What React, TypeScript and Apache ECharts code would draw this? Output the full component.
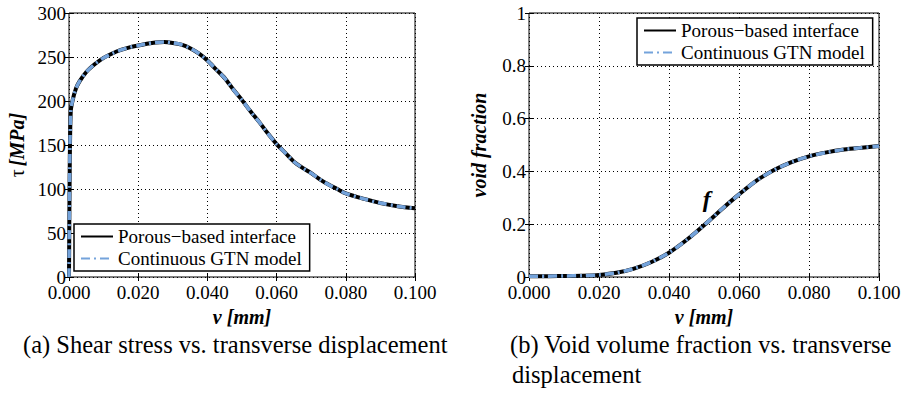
import React, { useEffect, useRef } from "react";
import * as echarts from "echarts";

const vTau = [0, 0.0002, 0.0005, 0.001, 0.002, 0.003, 0.005, 0.0075, 0.01, 0.0125, 0.015, 0.0175, 0.02, 0.0225, 0.025, 0.0275, 0.03, 0.0325, 0.035, 0.0375, 0.04, 0.0425, 0.045, 0.0475, 0.05, 0.0525, 0.055, 0.0575, 0.06, 0.0625, 0.065, 0.0675, 0.07, 0.0725, 0.075, 0.0775, 0.08, 0.085, 0.09, 0.095, 0.1];
const tauPorous = [0, 120, 188, 200, 214, 222, 233, 242, 249, 254, 258, 261, 263, 265, 266.5, 267, 266, 264, 260, 254, 246, 236, 226, 213, 201, 188, 176, 163, 151, 141, 131, 124, 118, 111, 105, 100, 95, 89, 84, 80.5, 78];
const tauGTN = [0, 120, 188, 200, 214, 222, 233, 242, 249, 254, 258, 261, 263, 265, 266.5, 267, 266, 264, 260, 254, 246, 236, 226, 213, 201, 188, 176, 163, 151, 141, 131, 124, 118, 111, 105, 100, 95, 89, 84, 80.5, 78];

const vF = [0, 0.005, 0.01, 0.015, 0.02, 0.025, 0.03, 0.035, 0.04, 0.045, 0.05, 0.055, 0.06, 0.065, 0.07, 0.075, 0.08, 0.085, 0.09, 0.095, 0.1];
const fPorous = [0.003, 0.003, 0.004, 0.005, 0.008, 0.016, 0.032, 0.057, 0.092, 0.14, 0.196, 0.256, 0.313, 0.365, 0.405, 0.435, 0.457, 0.472, 0.483, 0.49, 0.496];
const fGTN = [0.003, 0.003, 0.004, 0.005, 0.008, 0.016, 0.032, 0.057, 0.092, 0.14, 0.196, 0.256, 0.313, 0.365, 0.405, 0.435, 0.457, 0.472, 0.483, 0.49, 0.496];

const seriesNames = ["Porous\u2212based interface", "Continuous GTN model"];
const captionA = "(a) Shear stress vs. transverse displacement";
const captionB1 = "(b) Void volume fraction vs. transverse";
const captionB2 = "displacement";
const fLabel = { text: "f", v: 0.0508, y: 0.295 };

const FONT = "'Liberation Serif', 'Times New Roman', Times, serif";
const BLUE = "#74a3db";

const zip = (xs: number[], ys: number[]) => xs.map((x, i) => [x, ys[i]]);

function xAxes(gridIndex: number) {
  return [
    {
      type: "value", gridIndex, min: 0, max: 0.1, interval: 0.02,
      name: "{i|v [mm]}", nameLocation: "middle", nameGap: 27,
      nameTextStyle: { rich: { i: { fontFamily: FONT, fontSize: 20, fontWeight: "bold", fontStyle: "italic", color: "#000" } } },
      axisLine: { show: false },
      axisTick: { inside: true, length: 4, lineStyle: { color: "#000" } },
      axisLabel: { fontFamily: FONT, fontSize: 19, color: "#000", margin: 6, formatter: (v: number) => v.toFixed(3) },
      splitLine: { show: true, lineStyle: { color: "#000", type: [1, 3], width: 1 } },
    },
    {
      type: "value", gridIndex, min: 0, max: 0.1, interval: 0.02, position: "top",
      axisLine: { show: false }, axisLabel: { show: false }, splitLine: { show: false },
      axisTick: { inside: true, length: 4, lineStyle: { color: "#000" } },
    },
  ];
}

function yAxes(gridIndex: number, max: number, interval: number, name: string, rich: any, gap: number) {
  return [
    {
      type: "value", gridIndex, min: 0, max, interval,
      name, nameLocation: "middle", nameGap: gap, nameTextStyle: { rich },
      axisLine: { show: false },
      axisTick: { inside: true, length: 4, lineStyle: { color: "#000" } },
      axisLabel: { fontFamily: FONT, fontSize: 19, color: "#000", margin: 3 },
      splitLine: { show: true, lineStyle: { color: "#000", type: [1, 3], width: 1 } },
    },
    {
      type: "value", gridIndex, min: 0, max, interval, position: "right",
      axisLine: { show: false }, axisLabel: { show: false }, splitLine: { show: false },
      axisTick: { inside: true, length: 4, lineStyle: { color: "#000" } },
    },
  ];
}

function lineSeries(name: string, data: number[][], xi: number, yi: number, blue: boolean, extra: any = {}) {
  return {
    type: "line", name, data, xAxisIndex: xi, yAxisIndex: yi, symbol: "none", smooth: 0.3,
    lineStyle: blue
      ? { color: BLUE, width: 3.5, type: [9, 4, 2, 4] }
      : { color: "#000", width: 4, type: "solid" },
    itemStyle: { color: blue ? BLUE : "#000" },
    z: blue ? 3 : 2,
    ...extra,
  };
}

function legend(left: number, top: number) {
  return {
    left, top, orient: "vertical", data: seriesNames,
    itemWidth: 32, itemHeight: 6, itemGap: 3,
    padding: [3, 8, 3, 6],
    borderColor: "#000", borderWidth: 1.5, backgroundColor: "#fff",
    itemStyle: { opacity: 0 },
    textStyle: { fontFamily: FONT, fontSize: 19, color: "#000" },
    selectedMode: false,
  };
}

export default function App() {
  const ref = useRef<HTMLDivElement>(null);
  useEffect(() => {
    document.body.style.margin = "0";
    const chart = echarts.init(ref.current!, undefined, { renderer: "svg" });
    const boldIt = { fontFamily: FONT, fontSize: 20, fontWeight: "bold", fontStyle: "italic", color: "#000" };
    const cap = { fontFamily: FONT, fontSize: 24.5, fill: "#000" };
    chart.setOption({
      animation: false,
      backgroundColor: "#fff",
      textStyle: { fontFamily: FONT },
      grid: [
        { left: 69, top: 13, width: 346, height: 264, show: true, borderColor: "#000", borderWidth: 1, backgroundColor: "transparent" },
        { left: 529, top: 13, width: 350, height: 264, show: true, borderColor: "#000", borderWidth: 1, backgroundColor: "transparent" },
      ],
      xAxis: [...xAxes(0), ...xAxes(1)],
      yAxis: [
        ...yAxes(0, 300, 50, "{t|\u03c4} {i|[MPa]}", { t: { fontFamily: FONT, fontSize: 20, color: "#000" }, i: boldIt }, 42),
        ...yAxes(1, 1, 0.2, "{i|void fraction}", { i: boldIt }, 40),
      ],
      legend: [legend(74, 224), legend(637, 18)],
      series: [
        lineSeries(seriesNames[0], zip(vTau, tauPorous), 0, 0, false),
        lineSeries(seriesNames[1], zip(vTau, tauGTN), 0, 0, true),
        lineSeries(seriesNames[0], zip(vF, fPorous), 2, 2, false),
        lineSeries(seriesNames[1], zip(vF, fGTN), 2, 2, true, {
          markPoint: {
            symbol: "circle", symbolSize: 0,
            data: [{ coord: [fLabel.v, fLabel.y] }],
            label: { show: true, formatter: fLabel.text, position: "inside", fontFamily: FONT, fontSize: 24, fontStyle: "italic", fontWeight: "bold", color: "#000" },
          },
        }),
      ],
      graphic: [
        { type: "text", left: 23, top: 332, style: { text: captionA, ...cap } },
        { type: "text", left: 510, top: 332, style: { text: captionB1, ...cap } },
        { type: "text", left: 512, top: 362, style: { text: captionB2, ...cap } },
      ],
    });
    return () => chart.dispose();
  }, []);
  return <div ref={ref} style={{ width: 904, height: 395 }} />;
}
